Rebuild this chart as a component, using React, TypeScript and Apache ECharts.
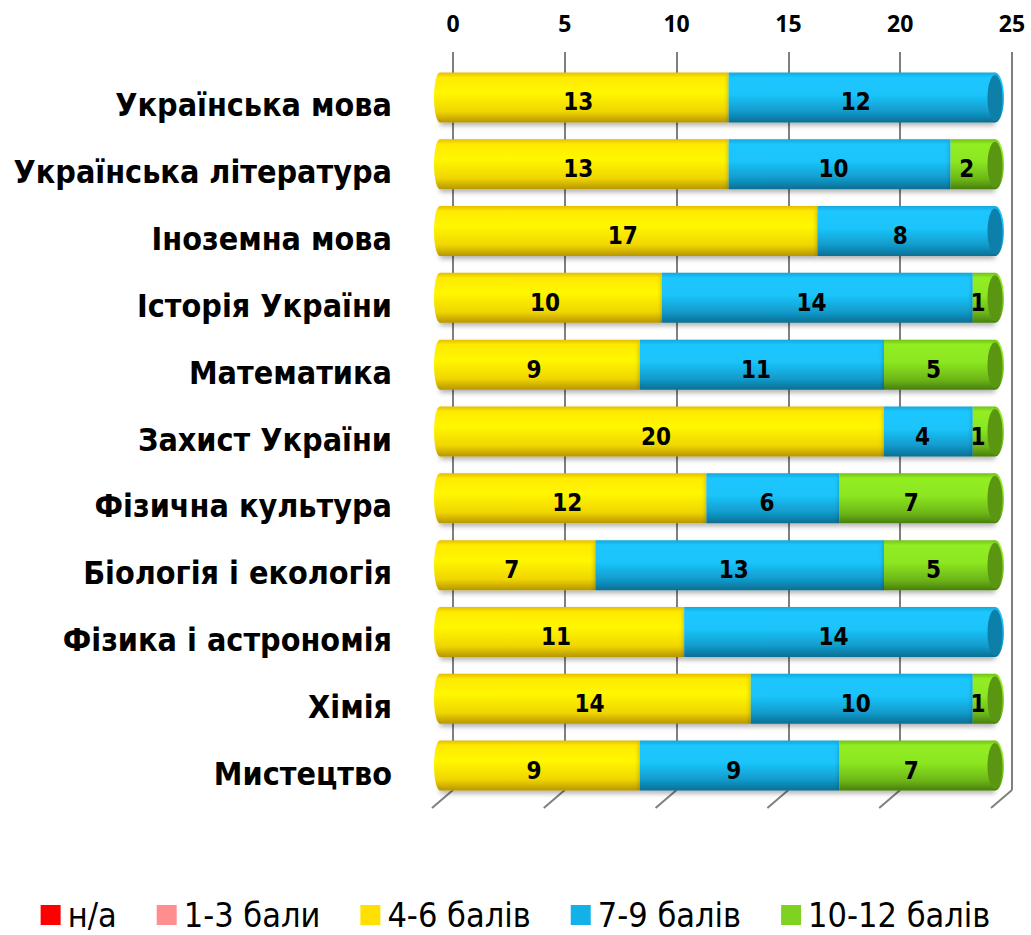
import React, { useEffect, useRef } from "react";
import * as echarts from "echarts";

const categories = [
  "Українська мова",
  "Українська література",
  "Іноземна мова",
  "Історія України",
  "Математика",
  "Захист України",
  "Фізична культура",
  "Біологія і екологія",
  "Фізика і астрономія",
  "Хімія",
  "Мистецтво",
];
const seriesNames = ["н/а", "1-3 бали", "4-6 балів", "7-9 балів", "10-12 балів"];
const naValues = [0, 0, 0, 0, 0, 0, 0, 0, 0, 0, 0];
const lowValues = [0, 0, 0, 0, 0, 0, 0, 0, 0, 0, 0];
const midValues = [13, 13, 17, 10, 9, 20, 12, 7, 11, 14, 9];
const goodValues = [12, 10, 8, 14, 11, 4, 6, 13, 14, 10, 9];
const highValues = [0, 2, 0, 1, 5, 1, 7, 5, 0, 1, 7];
const xTicks = { min: 0, max: 25, interval: 5 };

const NARROW = "'Liberation Sans Narrow', 'DejaVu Sans Condensed', 'Arial Narrow', sans-serif";

const legendColors = ["#FF0000", "#FF8F8F", "#FFE000", "#12B2E8", "#7ED321"];
const gradStops = [
  [
    [0, "#D00000"], [0.2, "#FF1010"], [0.7, "#F00000"], [1, "#900000"],
  ],
  [
    [0, "#E07070"], [0.2, "#FFA0A0"], [0.7, "#F08888"], [1, "#B05050"],
  ],
  [
    [0, "#E2BE00"], [0.1, "#FFEA00"], [0.4, "#FFF700"], [0.78, "#F0D600"], [1, "#B89600"],
  ],
  [
    [0, "#14A8DA"], [0.1, "#1BC6FF"], [0.45, "#1AC4FA"], [0.8, "#1198C8"], [1, "#0A6E92"],
  ],
  [
    [0, "#72C216"], [0.1, "#92EE24"], [0.45, "#8CE620"], [0.8, "#6CB618"], [1, "#487F0C"],
  ],
];
const faceColors = ["#A00000", "#C06060", "#C9A800", "#0E7FA8", "#5A9612"];

const mkGrad = (i: number) =>
  new echarts.graphic.LinearGradient(
    0, 0, 0, 1,
    gradStops[i].map(([o, c]) => ({ offset: o as number, color: c as string }))
  );

export default function App() {
  const ref = useRef<HTMLDivElement>(null);
  useEffect(() => {
    if (!ref.current) return;
    const chart = echarts.init(ref.current, null, { renderer: "svg" });
    const all = [naValues, lowValues, midValues, goodValues, highValues];
    const totals = categories.map((_, i) => all.reduce((s, a) => s + a[i], 0));
    const firstIdx = categories.map((_, i) => all.findIndex((a) => a[i] > 0));
    const lastIdx = categories.map((_, i) => {
      let k = -1;
      all.forEach((a, j) => { if (a[i] > 0) k = j; });
      return k;
    });

    const barSeries = all.map((vals, si) => ({
      name: seriesNames[si],
      type: "bar",
      stack: "total",
      xAxisIndex: 1,
      yAxisIndex: 1,
      barWidth: 50,
      z: 3,
      data: vals,
      itemStyle: {
        color: mkGrad(si),
        shadowBlur: 5,
        shadowColor: "rgba(0,0,0,0.3)",
        shadowOffsetY: 3,
      },
      label: {
        show: true,
        position: "inside",
        offset: [-6, 5],
        formatter: (p: any) => (p.value ? String(p.value) : ""),
        color: "#000",
        fontFamily: NARROW,
        fontWeight: "bold",
        fontSize: 24,
      },
    }));

    const option: any = {
      animation: false,
      legend: {
        bottom: -2,
        left: "center",
        itemWidth: 20,
        itemHeight: 20,
        itemGap: 40,
        icon: "rect",
        textStyle: { fontFamily: NARROW, fontSize: 34, color: "#000", padding: [0, 0, 0, 2] },
        data: seriesNames.map((n, i) => ({ name: n, itemStyle: { color: legendColors[i] } })),
      },
      grid: [
        { left: 453, right: 19, top: 52, bottom: 145 },
        { left: 440, width: 555, top: 64, height: 735 },
        { left: 440, width: 555, top: 72, height: 735 },
      ],
      xAxis: [
        {
          type: "value",
          gridIndex: 0,
          position: "top",
          ...xTicks,
          axisLine: { show: false },
          axisTick: { show: false },
          axisLabel: {
            color: "#000",
            fontWeight: "bold",
            fontSize: 23,
            fontFamily: "'Open Sans', sans-serif",
            margin: 18,
          },
          splitLine: { show: true, lineStyle: { color: "#7F7F7F", width: 2 } },
        },
        {
          type: "value",
          gridIndex: 1,
          ...xTicks,
          show: false,
          splitLine: { show: false },
        },
        {
          type: "value",
          gridIndex: 2,
          ...xTicks,
          show: false,
          splitLine: { show: false },
        },
      ],
      yAxis: [
        { type: "value", gridIndex: 0, min: 0, max: 1, show: false, splitLine: { show: false } },
        {
          type: "category",
          gridIndex: 1,
          inverse: true,
          data: categories,
          show: false,
        },
        {
          type: "category",
          gridIndex: 2,
          inverse: true,
          data: categories,
          axisLine: { show: false },
          axisTick: { show: false },
          axisLabel: {
            color: "#000",
            fontWeight: "bold",
            fontSize: 32,
            fontFamily: NARROW,
            margin: 48,
          },
        },
      ],
      series: [
        {
          type: "custom",
          xAxisIndex: 0,
          yAxisIndex: 0,
          z: 1,
          silent: true,
          data: [0, 5, 10, 15, 20, 25].map((v) => [v, 0]),
          renderItem: (_p: any, api: any) => {
            const [x, y] = api.coord([api.value(0), 0]);
            return {
              type: "line",
              shape: { x1: x, y1: y, x2: x - 21, y2: y + 18 },
              style: { stroke: "#7F7F7F", lineWidth: 2 },
            };
          },
        },
        ...barSeries,
        {
          type: "custom",
          xAxisIndex: 1,
          yAxisIndex: 1,
          z: 4,
          silent: true,
          data: categories.map((_, i) => [totals[i], i]),
          renderItem: (p: any, api: any) => {
            const i = p.dataIndex;
            const [x0, cy] = api.coord([0, api.value(1)]);
            const [x1] = api.coord([api.value(0), api.value(1)]);
            const ry = 25;
            return {
              type: "group",
              children: [
                {
                  type: "ellipse",
                  shape: { cx: x0, cy, rx: 6, ry },
                  style: { fill: mkGrad(firstIdx[i]) },
                },
                {
                  type: "ellipse",
                  shape: { cx: x1, cy, rx: 9, ry },
                  style: { fill: mkGrad(lastIdx[i]) },
                },
                {
                  type: "ellipse",
                  shape: { cx: x1, cy: cy + 0.5, rx: 7.5, ry: ry - 2 },
                  style: { fill: faceColors[lastIdx[i]] },
                },
              ],
            };
          },
        },
      ],
    };
    chart.setOption(option);
    return () => chart.dispose();
  }, []);
  return (
    <div
      ref={ref}
      style={{ position: "absolute", left: 0, top: 0, width: 1031, height: 935, background: "#fff" }}
    />
  );
}
